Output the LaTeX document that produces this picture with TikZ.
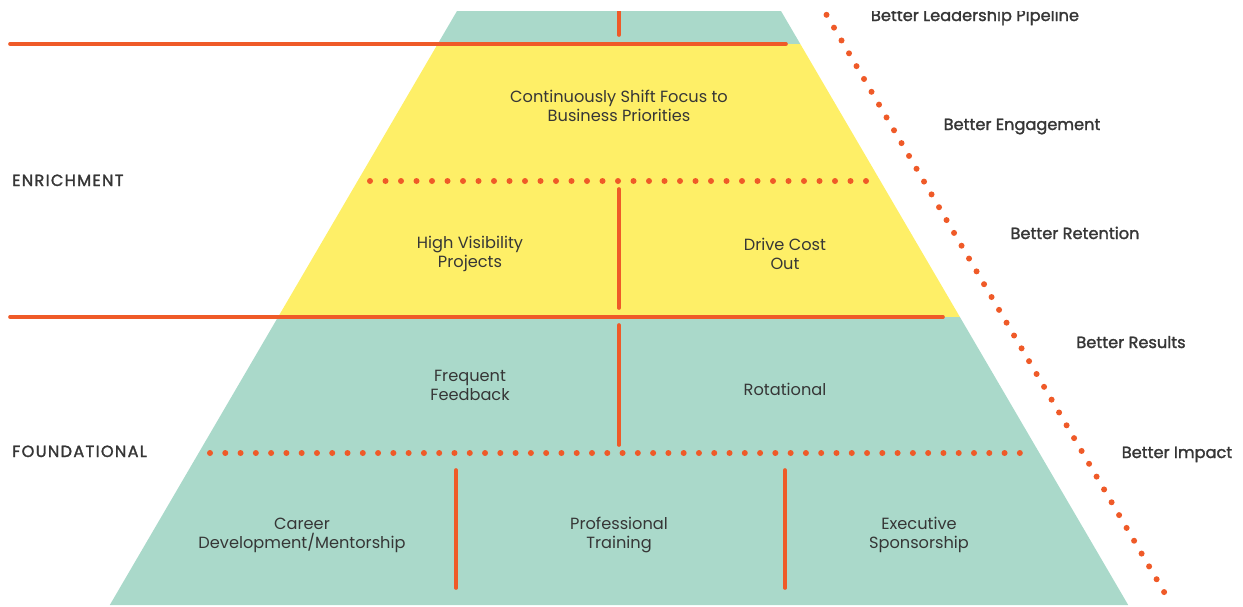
\documentclass[tikz,border=0pt]{standalone}
\usepackage{fontspec}
\setmainfont{Poppins}
\newfontfamily\labelfont{Poppins}[FakeBold=1.6]
\newfontfamily\tierfont{Poppins}[FakeBold=1.6, LetterSpace=8]
\begin{document}
\begin{tikzpicture}[x=1pt,y=-1pt,
  every node/.style={text=ink},
  body/.style={font=\fontsize{16.2}{19}\selectfont, align=center, inner sep=0pt},
  tier/.style={font=\tierfont\fontsize{16.2}{19}\selectfont, inner sep=0pt, anchor=base west},
  gain/.style={font=\labelfont\fontsize{16.2}{19}\selectfont, inner sep=0pt, anchor=base},
  rule/.style={draw=accent, line width=3.6pt, line cap=round},
  dots/.style={draw=accent, line width=6pt, line cap=round, dash pattern=on 0pt off #1},
]
\definecolor{ink}{HTML}{363636}
\definecolor{accent}{HTML}{EF5A28}
\definecolor{teal}{HTML}{AAD9CA}
\definecolor{lemon}{HTML}{FEEF67}
\useasboundingbox (0,0) rectangle (1243,606);

% pyramid bands
\fill[teal]  (457,11) -- (781,11) -- (800.3,44) -- (437.7,44) -- cycle;
\fill[lemon] (437.7,44) -- (800.3,44) -- (959.9,317) -- (278.1,317) -- cycle;
\fill[teal]  (278.1,317) -- (959.9,317) -- (1128.2,605) -- (109.8,605) -- cycle;

% solid dividers
\coordinate (r1a) at (10,44);   \coordinate (r1b) at (786,44);
\coordinate (r2a) at (10,317);  \coordinate (r2b) at (943,317);
\draw[rule] (r1a) -- (r1b);
\draw[rule] (r2a) -- (r2b);

\coordinate (v0a) at (619,8);   \coordinate (v0b) at (619,35);
\coordinate (v1a) at (619,189); \coordinate (v1b) at (619,308);
\coordinate (v2a) at (619,325); \coordinate (v2b) at (619,445);
\coordinate (v3a) at (456,470); \coordinate (v3b) at (456,588);
\coordinate (v4a) at (785,470); \coordinate (v4b) at (785,588);
\draw[rule] (v0a) -- (v0b);
\draw[rule] (v1a) -- (v1b);
\draw[rule] (v2a) -- (v2b);
\draw[rule] (v3a) -- (v3b);
\draw[rule] (v4a) -- (v4b);

% dotted dividers
\coordinate (d1a) at (370,181);  \coordinate (d1b) at (866,181);
\coordinate (d2a) at (210,453);  \coordinate (d2b) at (1020,453);
\coordinate (diaga) at (819,2);  \coordinate (diagb) at (1167,597);
\draw[dots=15.5pt] (d1a) -- (d1b);
\draw[dots=15.28pt] (d2a) -- (d2b);
\draw[dots=14.86pt] (diaga) -- (diagb);

% block texts
\node[body] (shift) at (619,106) {Continuously Shift Focus to\\Business Priorities};
\node[body] (vis)   at (470,254) {High Visibility\\Projects};
\node[body] (cost)  at (785,254) {Drive Cost\\Out};
\node[body] (feed)  at (470,385) {Frequent\\Feedback};
\node[body] (rot)   at (785,389) {Rotational};
\node[body] (car)   at (302,535) {Career\\Development/Mentorship};
\node[body] (prof)  at (619,535) {Professional\\Training};
\node[body] (exec)  at (919,535) {Executive\\Sponsorship};

% tier labels
\node[tier] (enr) at (12,186) {ENRICHMENT};
\node[tier] (fnd) at (12,457) {FOUNDATIONAL};

% outcome labels
\node[gain] (g0) at (975,21)   {Better Leadership Pipeline};
\node[gain] (g1) at (1022,130) {Better Engagement};
\node[gain] (g2) at (1075,239) {Better Retention};
\node[gain] (g3) at (1131,348) {Better Results};
\node[gain] (g4) at (1177,458) {Better Impact};

% white margin across the top edge
\fill[white] (0,0) rectangle (1243,11);
\end{tikzpicture}
\end{document}
